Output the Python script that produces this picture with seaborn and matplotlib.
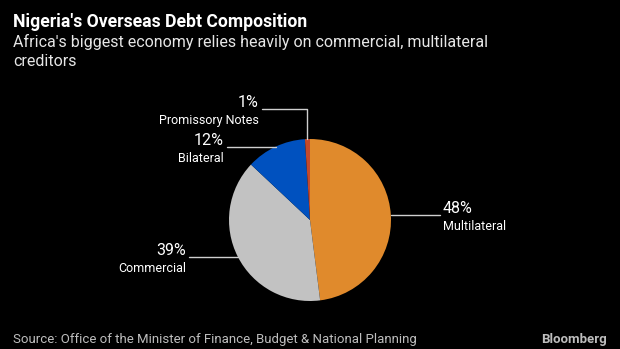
import numpy as np
import matplotlib
matplotlib.use("Agg")
import matplotlib.pyplot as plt
import seaborn as sns

categories = ["Multilateral", "Commercial", "Bilateral", "Promissory Notes"]
shares = [48, 39, 12, 1]
labels_pct = ["48%", "39%", "12%", "1%"]
colors = ["#E08A2C", "#C2C2C2", "#0051BF", "#C4492B"]

sns.set_theme(style="dark")
plt.rcParams["font.family"] = ["Roboto", "DejaVu Sans"]

W, H = 620, 349
fig = plt.figure(figsize=(W / 100, H / 100), dpi=100, facecolor="black")
ax = fig.add_axes([0, 0, 1, 1])
ax.set_facecolor("black")

cx, cy, r = 310, H - 220, 81
ax.pie(shares, colors=colors, startangle=90, counterclock=False,
       center=(cx, cy), radius=r, wedgeprops=dict(linewidth=0),
       frame=True)
ax.set_xlim(0, W)
ax.set_ylim(0, H)
ax.axis("off")

# label geometry from wedge mid-angles
total = sum(shares)
cum = np.cumsum([0] + shares)
mids = [(cum[i] + shares[i] / 2) / total * 360 for i in range(len(shares))]
pts = [(cx + r * np.sin(np.radians(a)), cy + r * np.cos(np.radians(a))) for a in mids]

lc = "#CFCFCF"
pct_fs, lab_fs = 11.5, 9
up, dn = -1, -5


def label(i, xt, ha, yline):
    ax.text(xt, yline + up, labels_pct[i], color="white", fontsize=pct_fs, ha=ha, va="bottom")
    ax.text(xt, yline + dn, categories[i], color="white", fontsize=lab_fs, ha=ha, va="top")


# Multilateral (right)
x0, y0 = pts[0]
ax.plot([x0, 440], [y0, y0], color=lc, lw=1)
label(0, 443, "left", y0)
# Commercial (left)
x1, y1 = pts[1]
ax.plot([x1, 189], [y1, y1], color=lc, lw=1)
label(1, 186, "right", y1)
# Bilateral (left)
x2, y2 = pts[2]
ax.plot([x2, 227], [y2, y2], color=lc, lw=1)
label(2, 224, "right", y2)
# Promissory Notes (elbow)
x3, y3 = pts[3]
yl = H - 109
ax.plot([x3, x3, 262], [y3, yl, yl], color=lc, lw=1)
label(3, 259, "right", yl)

fig.text(13 / W, 1 - 22 / H, "Nigeria's Overseas Debt Composition", color="white",
         fontsize=12.7, fontweight="bold", ha="left", va="center")
fig.text(13 / W, 1 - 42 / H, "Africa's biggest economy relies heavily on commercial, multilateral",
         color="#E6E6E6", fontsize=11.5, ha="left", va="center")
fig.text(13 / W, 1 - 62 / H, "creditors", color="#E6E6E6", fontsize=11.5, ha="left", va="center")
fig.text(13 / W, 1 - 339 / H, "Source: Office of the Minister of Finance, Budget & National Planning",
         color="#BDBDBD", fontsize=9.5, ha="left", va="center")
fig.text(607 / W, 1 - 340 / H, "Bloomberg", color="#BDBDBD", fontsize=9.5,
         fontweight="bold", ha="right", va="center")

fig.savefig("out.png", dpi=100, facecolor="black")
